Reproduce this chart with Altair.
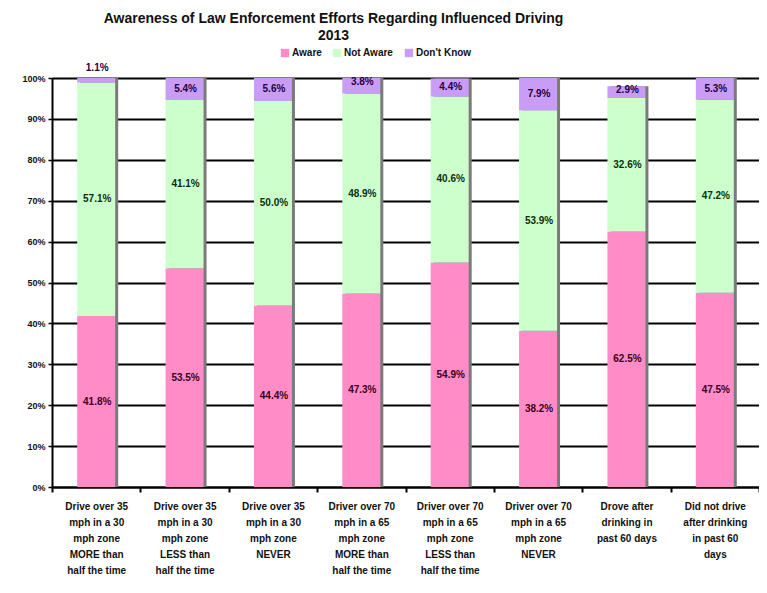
import altair as alt
import pandas as pd

categories = [
    "Drive over 35|mph in a 30|mph zone|MORE than|half the time",
    "Drive over 35|mph in a 30|mph zone|LESS than|half the time",
    "Drive over 35|mph in a 30|mph zone|NEVER",
    "Driver over 70|mph in a 65|mph zone|MORE than|half the time",
    "Driver over 70|mph in a 65|mph zone|LESS than|half the time",
    "Driver over 70|mph in a 65|mph zone|NEVER",
    "Drove after|drinking in|past 60 days",
    "Did not drive|after drinking|in past 60|days",
]
series = ["Aware", "Not Aware", "Don't Know"]
aware = [41.8, 53.5, 44.4, 47.3, 54.9, 38.2, 62.5, 47.5]
not_aware = [57.1, 41.1, 50.0, 48.9, 40.6, 53.9, 32.6, 47.2]
dont_know = [1.1, 5.4, 5.6, 3.8, 4.4, 7.9, 2.9, 5.3]
colors = ["#FF8CC6", "#CCFFCC", "#C99CF6"]
text_colors = ["#3a0020", "#0a300a", "#240045"]

rows = []
totals = []
for i, cat in enumerate(categories):
    base = 0.0
    for s, vals in zip(series, [aware, not_aware, dont_know]):
        v = vals[i]
        top = base + v
        mid = (base + top) / 2
        if v < 2:
            lab = top + 2.4
        elif v < 4:
            lab = top - 1.0
        else:
            lab = mid
        rows.append({"cat": cat, "series": s, "y0": base / 100, "y1": top / 100,
                     "lab": lab / 100, "text": f"{v:.1f}%"})
        base = top
    totals.append({"cat": cat, "total": base / 100})

df = pd.DataFrame(rows)
tot = pd.DataFrame(totals)

FONT = "Liberation Sans"

xenc = alt.X("cat:N", sort=categories, title=None,
             scale=alt.Scale(paddingInner=0, paddingOuter=0),
             axis=alt.Axis(labelExpr="split(datum.label, '|')", labelAngle=0,
                           labelFont=FONT, labelFontWeight="bold", labelFontSize=10,
                           labelColor="#111", labelLineHeight=16, labelPadding=9,
                           labelAlign="center", labelBaseline="top",
                           tickBand="extent", tickColor="#000", tickWidth=2, tickSize=5,
                           domainColor="#000", domainWidth=2, grid=False))

yscale = alt.Scale(domain=[0, 1], nice=False)

shadow = alt.Chart(tot).mark_bar(size=38, xOffset=3, color="#7a7a7a").encode(
    x=xenc,
    y=alt.Y("total:Q", scale=yscale, title=None,
            axis=alt.Axis(values=[i / 10 for i in range(11)], format=".0%",
                          labelFont=FONT, labelFontWeight="bold", labelFontSize=9,
                          labelColor="#111", grid=True, gridColor="#000", gridWidth=2,
                          tickColor="#000", tickSize=4, tickWidth=1.5,
                          domainColor="#000", domainWidth=2, labelPadding=3)),
    y2=alt.datum(0),
)

bars = alt.Chart(df).mark_bar(size=38).encode(
    x=xenc,
    y=alt.Y("y0:Q", scale=yscale),
    y2="y1:Q",
    color=alt.Color("series:N", sort=series,
                    scale=alt.Scale(domain=series, range=colors),
                    legend=alt.Legend(orient="none", direction="horizontal", title=None,
                                      legendX=228, legendY=-30, symbolType="square",
                                      symbolSize=70, symbolStrokeWidth=0,
                                      labelFont=FONT, labelFontWeight="bold",
                                      labelFontSize=10, labelColor="#111",
                                      columnPadding=10, symbolOffset=0, labelOffset=2)),
)

labels = alt.Chart(df).mark_text(font=FONT, fontWeight="bold", fontSize=10,
                                 baseline="middle", align="center", xOffset=1).encode(
    x=xenc,
    y=alt.Y("lab:Q", scale=yscale),
    text="text:N",
    color=alt.Color("series:N", sort=series,
                    scale=alt.Scale(domain=series, range=text_colors), legend=None),
)

chart = alt.layer(shadow, bars, labels).resolve_scale(color="independent").properties(
    width=707, height=409,
    autosize=alt.AutoSizeParams(type="none"),
    padding={"left": 44, "top": 70, "right": 0, "bottom": 100},
    title=alt.TitleParams(
        text=["Awareness of Law Enforcement Efforts Regarding Influenced Driving", "2013"],
        font=FONT, fontSize=14, fontWeight="bold", color="#111",
        anchor="middle", dx=-72, offset=5, lineHeight=17,
    ),
).configure_view(fill="#C0C0C0", stroke="#808080", strokeWidth=1.5).configure(
    background="white")

chart.save("out.html", embed_options={"renderer": "svg", "actions": False})
